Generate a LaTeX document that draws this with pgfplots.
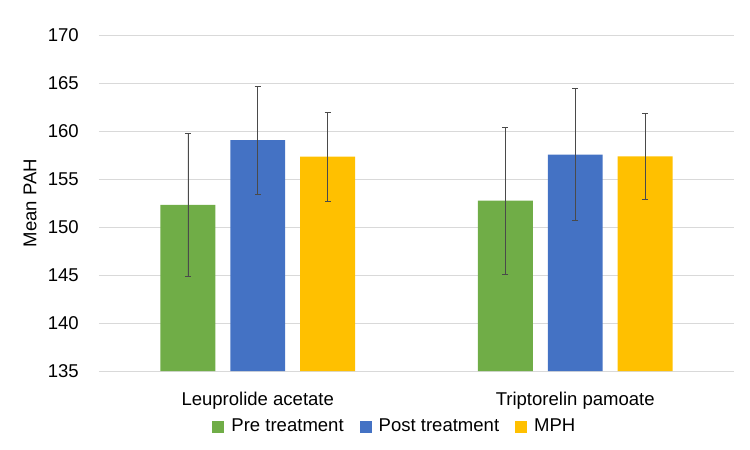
\documentclass[border=0pt]{standalone}
\usepackage{fontspec}
\setmainfont{Liberation Sans}
\usepackage{pgfplots}
\pgfplotsset{compat=1.18}

\definecolor{preC}{HTML}{70AD47}
\definecolor{postC}{HTML}{4472C4}
\definecolor{mphC}{HTML}{FFC000}
\definecolor{gridC}{HTML}{D9D9D9}
\definecolor{errC}{HTML}{4A4A4A}

\begin{document}
\fontsize{18.6}{21}\selectfont
\begin{tikzpicture}
\path[use as bounding box] (-99bp,-79bp) rectangle (651bp,371bp);
\begin{axis}[
	at={(0,0)}, anchor=south west,
	scale only axis,
	width=635bp, height=336bp,
	ybar,
	xmin=-0.5, xmax=1.5,
	ymin=135, ymax=170,
	ytick distance=5,
	xtick={0,1},
	xticklabels={Leuprolide acetate, Triptorelin pamoate},
	major tick length=0,
	ymajorgrids,
	grid style={gridC, line width=0.75bp},
	axis line style={draw=none},
	/pgf/number format/assume math mode=true,
	ticklabel style={font=\fontsize{18.6}{21}\selectfont, text=black},
	yticklabel style={inner sep=0pt, xshift=-20bp},
	xticklabel style={inner sep=0pt, yshift=-21bp},
	ylabel={Mean PAH},
	every axis y label/.style={at={(axis description cs:-0.1087,0.5)}, rotate=90, anchor=center, font=\fontsize{18.6}{21}\selectfont},
	bar width=0.173,
	legend columns=3,
	legend style={draw=none, at={(rel axis cs:0.466,-0.1667)}, anchor=center,
		font=\fontsize{18.6}{21}\selectfont,
		/tikz/every odd column/.append style={column sep=5bp},
		/tikz/every even column/.append style={column sep=14bp}},
	legend image code/.code={\fill[#1] (0bp,-6bp) rectangle (12bp,6bp);},
	error bars/y dir=both,
	error bars/y explicit,
	error bars/error bar style={errC, line width=0.8bp},
	error bars/error mark options={rotate=90, mark size=3bp, errC, line width=0.8bp},
]
\addplot[fill=preC, draw=none, bar shift=-0.22] coordinates {
	(0, 152.3) +- (0, 7.40)
	(1, 152.74) +- (0, 7.64)
};
\addlegendentry{Pre treatment}
\addplot[fill=postC, draw=none, bar shift=0] coordinates {
	(0, 159.05) +- (0, 5.63)
	(1, 157.55) +- (0, 6.88)
};
\addlegendentry{Post treatment}
\addplot[fill=mphC, draw=none, bar shift=0.22] coordinates {
	(0, 157.33) +- (0, 4.64)
	(1, 157.35) +- (0, 4.45)
};
\addlegendentry{MPH}
\end{axis}
\end{tikzpicture}
\end{document}
